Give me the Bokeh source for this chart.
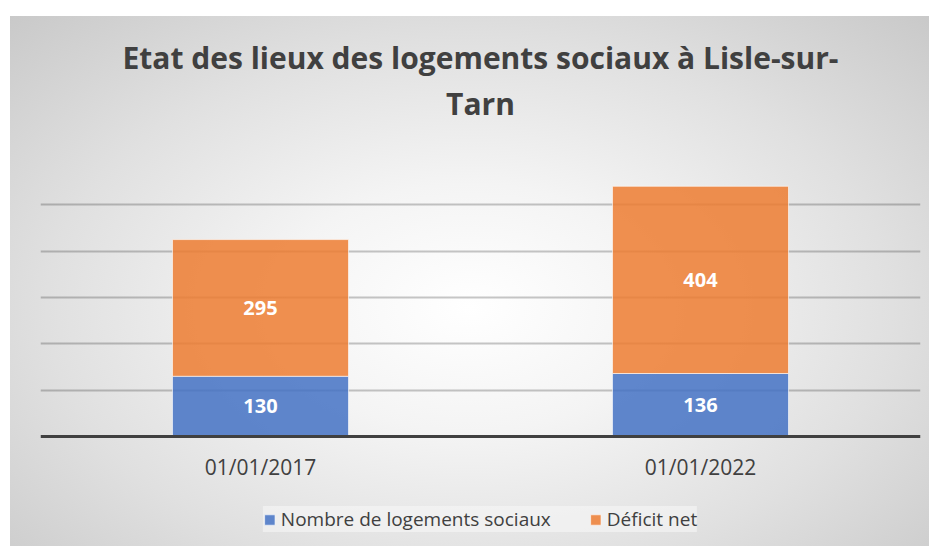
from bokeh.plotting import figure
from bokeh.models import ColumnDataSource, FixedTicker, Legend, LegendItem, Title
from bokeh.core.properties import value
from bokeh.embed import file_html
from bokeh.resources import INLINE

# ---- data ----
dates = ["01/01/2017", "01/01/2022"]
logements = [130, 136]
deficit = [295, 404]
series_names = ["Nombre de logements sociaux", "Déficit net"]
colors = ["#4472C4", "#ED7D31"]
grid_ticks = [100, 200, 300, 400, 500, 600]
title_lines = ["Etat des lieux des logements sociaux à Lisle-sur-", "Tarn"]

src = ColumnDataSource(data=dict(
    date=dates,
    logements=logements,
    deficit=deficit,
    y_log=[v / 2 for v in logements],
    y_def=[a + b / 2 for a, b in zip(logements, deficit)],
    t_log=[str(v) for v in logements],
    t_def=[str(v) for v in deficit],
))

# frame extends below the zero line so that axis labels and legend sit inside it
p = figure(
    x_range=dates, y_range=(-237.4, 600),
    width=919, height=530,
    frame_width=880, frame_height=388,
    output_backend="svg", toolbar_location=None,
    min_border_left=30, min_border_right=9, min_border_top=142, min_border_bottom=0,
    title=None,
)
p.margin = (16, 0, 0, 10)
p.styles = {
    "background": "radial-gradient(ellipse at 50% 55%, #ffffff 0%, #f4f4f4 30%, #e0e0e0 65%, #c9c9c9 100%)",
}
p.border_fill_color = None
p.background_fill_color = None
p.outline_line_color = None

for txt, so in ((title_lines[1], 70), (title_lines[0], -64)):
    t = Title(text=txt, align="center", text_font="Open Sans", text_font_size="30px",
              text_font_style="bold", text_color="#404040", standoff=so)
    p.add_layout(t, "above")

r = p.vbar_stack(["logements", "deficit"], x="date", width=0.4, source=src,
                 color=colors, fill_alpha=0.85, line_color="white", line_alpha=0.6, line_width=1)

for ycol, tcol in (("y_log", "t_log"), ("y_def", "t_def")):
    p.text(x="date", y=ycol, text=tcol, source=src, text_align="center", text_baseline="middle",
           text_color="white", text_font=value("Open Sans"), text_font_style="bold",
           text_font_size="20px")

p.yaxis.visible = False
p.xgrid.grid_line_color = None
p.ygrid.ticker = FixedTicker(ticks=grid_ticks)
p.ygrid.grid_line_color = "black"
p.ygrid.grid_line_alpha = 0.22
p.ygrid.grid_line_width = 2

ax = p.xaxis[0]
ax.fixed_location = 0
ax.axis_line_color = "#404040"
ax.axis_line_width = 3
ax.major_tick_line_color = None
ax.minor_tick_line_color = None
ax.major_tick_out = 0
ax.major_tick_in = 0
ax.major_label_text_font = "Open Sans"
ax.major_label_text_font_size = "21px"
ax.major_label_text_color = "#404040"
ax.major_label_standoff = 16

legend = Legend(items=[LegendItem(label=series_names[i], renderers=[r[i]]) for i in range(2)],
                orientation="horizontal", location="bottom_center")
legend.label_text_font = "Open Sans"
legend.label_text_font_size = "19px"
legend.label_text_color = "#404040"
legend.glyph_width = 13
legend.glyph_height = 13
legend.label_standoff = 5
legend.spacing = 38
legend.padding = 12
legend.margin = 14
legend.background_fill_color = "#f7f7f7"
legend.background_fill_alpha = 0.6
legend.border_line_color = None
p.add_layout(legend, "center")

open("out.html", "w").write(file_html(p, INLINE))
